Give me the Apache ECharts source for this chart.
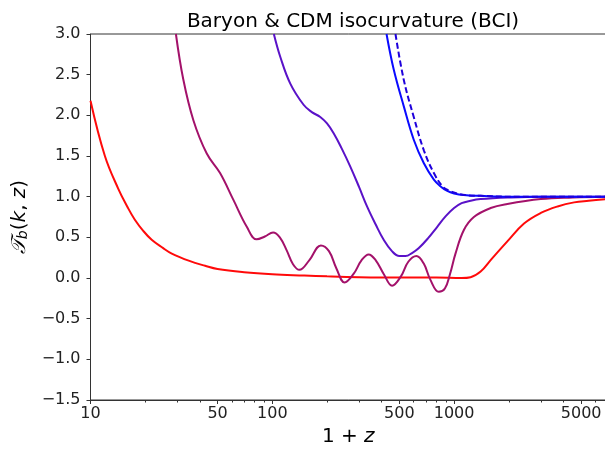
<!DOCTYPE html>
<html>
<head>
<meta charset="utf-8">
<script src="https://cdn.jsdelivr.net/npm/echarts@6/dist/echarts.min.js"></script>
<style>html,body{margin:0;padding:0;background:#fff}#c{width:605px;height:449px}</style>
</head>
<body>
<div id="c"></div>
<script>
// 1+z values and transfer values
const redCurve = [[10,2.18],[12,1.50],[14.2,1.10],[16,0.87],[17.5,0.72],[19.5,0.58],[21.7,0.47],[25,0.37],[28,0.30],[35,0.21],[42.7,0.15],[50,0.11],[70,0.07],[100,0.045],[150,0.03],[200,0.02],[300,0.01],[500,0.005],[800,0.005],[1100,0.0],[1233,0.01],[1400,0.08],[1589,0.22],[1963,0.45],[2425,0.67],[3000,0.80],[3710,0.88],[4575,0.93],[5500,0.95],[6850,0.97]];
const magentaCurve = [[29.5,3.0],[32.4,2.44],[36.8,1.94],[43.6,1.53],[51.6,1.29],[61.1,0.96],[72.4,0.63],[82,0.475],[91,0.51],[101,0.56],[110,0.5],[120,0.34],[130,0.17],[141,0.10],[160,0.22],[185,0.40],[205,0.33],[225,0.12],[250,-0.055],[280,0.05],[310,0.22],[339,0.29],[370,0.22],[410,0.05],[456,-0.095],[510,0.02],[560,0.2],[621,0.27],[680,0.18],[740,-0.02],[824,-0.17],[890,-0.13],[950,0.05],[1018,0.30],[1132,0.59],[1285,0.75],[1589,0.86],[1963,0.91],[3000,0.97],[4500,0.99],[6850,1.0]];
const purpleCurve = [[102,3.0],[110.6,2.72],[125.6,2.39],[148.6,2.13],[165,2.04],[183.6,1.98],[200,1.90],[217.5,1.78],[240,1.60],[268.6,1.37],[300,1.12],[332,0.88],[370,0.66],[410,0.47],[455,0.33],[500,0.27],[540,0.27],[590,0.31],[638,0.365],[720,0.49],[808,0.63],[900,0.76],[1000,0.86],[1100,0.92],[1233,0.95],[1400,0.97],[2000,0.99],[3000,1.0],[6850,1.0]];
const blueCurve = [[425,3.0],[466,2.56],[529,2.11],[600,1.70],[682,1.41],[774,1.21],[850,1.12],[917,1.07],[1000,1.04],[1130,1.02],[1400,1.01],[2000,1.0],[6850,1.0]];
const blueDashedCurve = [[476,3.0],[529,2.435],[600,1.98],[682,1.57],[774,1.29],[870,1.12],[950,1.07],[1040,1.04],[1150,1.02],[1400,1.01],[2000,1.0],[6850,1.0]];
const xMajorTicks = [10,50,100,500,1000,5000];
const xMinorTicks = [20,30,40,60,70,80,90,200,300,400,600,700,800,900,2000,3000,4000,6000];

const FONT = 'DejaVu Sans';
const chart = echarts.init(document.getElementById('c'), null, {renderer:'canvas'});
function line(data, color, dashed) {
  return {
    type:'line', data:data, showSymbol:false, smooth:0.4,
    xAxisIndex:0, yAxisIndex:0, clip:true, animation:false,
    lineStyle:{color:color, width:2, type: dashed ? [6,3] : 'solid'}
  };
}
chart.setOption({
  animation:false,
  title:{text:'Baryon & CDM isocurvature (BCI)', left:348, textAlign:'center', top:7,
    textStyle:{fontFamily:FONT, fontSize:20, fontWeight:'normal', color:'#000'}},
  grid:{left:90.5, right:-1, top:34, bottom:49, show:true, borderColor:'#333', borderWidth:1,
    containLabel:false, outerBoundsMode:'none'},
  xAxis:[{
    type:'log', logBase:10, min:10, max:6850, gridIndex:0, position:'bottom',
    name:'{a|1 + }{b|z}', nameLocation:'middle', nameGap:26,
    nameTextStyle:{rich:{a:{fontFamily:FONT, fontSize:20, color:'#000'}, b:{fontFamily:FONT, fontSize:20, fontStyle:'italic', color:'#000'}}},
    axisLine:{show:true, onZero:false, lineStyle:{color:'#333', width:1}},
    axisTick:{show:true, inside:false, length:4, customValues:xMajorTicks, lineStyle:{color:'#333'}},
    axisLabel:{show:true, customValues:xMajorTicks, fontFamily:FONT, fontSize:16, color:'#222', margin:6,
      formatter:function(v){return String(Math.round(v));}},
    splitLine:{show:false}
  },{
    type:'log', logBase:10, min:10, max:6850, gridIndex:0, position:'bottom',
    axisLine:{show:false, onZero:false},
    axisTick:{show:true, inside:false, length:2.5, customValues:xMinorTicks, lineStyle:{color:'#333'}},
    axisLabel:{show:false, customValues:xMinorTicks},
    splitLine:{show:false}
  }],
  yAxis:{
    type:'value', min:-1.5, max:3.0, interval:0.5,
    name:'{t|𝒯}{s|b}{n|(}{i|k}{n|, }{i|z}{n|)}', nameLocation:'middle', nameGap:49, nameRotate:90,
    nameTextStyle:{rich:{
      t:{fontFamily:'DejaVu Serif', fontSize:20, fontStyle:'italic', color:'#000'},
      s:{fontFamily:FONT, fontSize:14, fontStyle:'italic', color:'#000', padding:[8,0,0,0]},
      n:{fontFamily:FONT, fontSize:20, color:'#000'},
      i:{fontFamily:FONT, fontSize:20, fontStyle:'italic', color:'#000'}
    }},
    axisLine:{show:true, onZero:false, lineStyle:{color:'#333', width:1}},
    axisTick:{show:true, inside:false, length:4, lineStyle:{color:'#333'}},
    axisLabel:{fontFamily:FONT, fontSize:16, color:'#222', margin:10,
      formatter:function(v){return (v<0?'\u2212':'') + Math.abs(v).toFixed(1);}},
    splitLine:{show:false}
  },
  series:[
    line(redCurve,'#ff0a0a',false),
    line(magentaCurve,'#a3116a',false),
    line(purpleCurve,'#5a12c8',false),
    line(blueCurve,'#0a0aff',false),
    line(blueDashedCurve,'#1e00dc',true)
  ]
});
</script>
</body>
</html>
